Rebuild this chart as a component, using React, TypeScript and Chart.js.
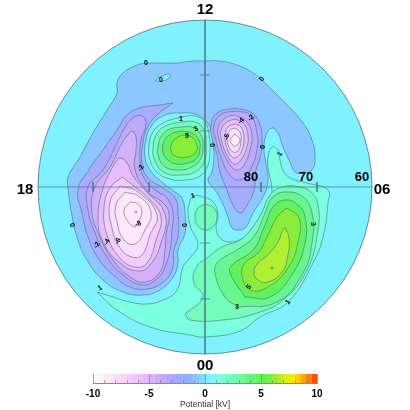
import React, { useEffect, useRef } from "react";
import { Chart, registerables } from "chart.js";

Chart.register(...registerables);

// Map grid: pole at POLE, magnetic-latitude rings every 10 degrees.
const POLE = [205, 187];
const RING_RADIUS = 167;

const zeroRegion = [146,63,160,63,177,63,193,61,205,61,220,61,237,65,250,71,262,80,272,90,287,105,303,123,312,140,315,157,312,170,303,173,295,172,290,162,283,147,278,133,272,128,266,135,264,147,265,158,267,170,268,180,265,193,253,213,245,228,237,230,232,228,228,217,222,202,215,190,208,180,212,172,214,155,213,145,211,130,205,120,195,114,181,113,165,115,152,125,146,140,145,157,150,170,163,183,175,192,182,198,185,213,185,233,178,250,178,263,173,277,160,290,143,295,123,292,103,280,87,260,77,237,71,210,68,187,68,177,80,157,93,133,107,110,117,93,117,83,123,73,137,65];
const zeroLens = [155,81,160,77,170,74,169,78,162,81];

const duskM1 = [173,103,157,115,147,128,143,143,142,163,148,178,163,188,175,198,178,213,178,237,174,250,172,270,162,283,147,289,130,287,113,275,98,258,88,237,82,213,78,190,90,168,103,150,117,130,127,115,140,108,160,105];
const duskM2 = [135,116,143,116,146,125,141,140,140,160,144,178,155,190,167,198,173,213,172,230,170,250,165,267,158,278,143,285,123,275,107,257,95,233,88,210,88,187,103,170,117,143,127,124];
const duskM3 = [127,136,132,131,136,137,136,150,135,170,148,192,162,202,169,213,166,235,165,250,160,272,145,282,130,277,113,260,100,237,92,212,95,187,110,167,122,143];
const duskM4 = [115,163,120,158,127,163,133,176,145,190,165,214,161,243,150,265,138,271,120,263,103,242,98,217,103,188,110,172];
const duskM5 = [122,177,135,187,150,200,161,217,156,240,147,263,135,267,120,258,107,235,104,208,110,188];
const duskM6 = [120,186,138,192,157,215,150,235,142,255,132,257,120,248,112,228,110,202];
const duskM7 = [125,192,140,197,151,213,145,230,135,244,124,240,117,222,116,205];
const duskM8 = [130,202,138,204,142,212,138,222,135,227,127,220,124,210];

const dawnM1 = [235,108,252,113,260,125,262,142,260,158,256,170,254,190,247,205,240,213,232,203,227,190,220,172,217,155,212,138,211,125,217,113];
const dawnM2 = [235,111,250,115,257,133,257,150,250,170,240,180,230,175,222,160,216,140,214,125,222,114];
const dawnM3 = [235,115,247,122,252,135,250,150,244,165,236,170,227,160,220,143,218,128,225,118];
const dawnM4 = [235,119,243,123,248,135,246,150,240,161,234,164,227,155,222,142,221,130,227,122];
const dawnM5 = [235,124,241,127,244,137,242,150,237,157,232,157,227,148,225,137,228,127];
const dawnM6 = [235,128,240,132,241,141,238,151,233,152,229,147,227,137,230,130];
const dawnM7 = [235,134,240,140,235,146,230,140];

const dayP1 = [181,117,195,116,205,122,209,135,210,150,208,165,200,176,185,180,170,179,157,172,150,160,149,145,153,132,163,123];
const dayP2 = [181,122,195,122,204,130,206,145,204,162,195,172,180,175,165,173,156,163,153,148,158,132,168,125];
const dayP3 = [181,127,192,127,201,135,203,147,200,160,190,168,178,170,165,167,159,158,158,147,162,135,170,129];
const dayP4 = [181,131,192,133,199,140,200,148,197,158,188,163,176,164,168,160,163,152,164,141,171,134];
const dayP5 = [182,135,192,137,197,145,196,152,188,157,178,157,172,153,171,146,175,139];

const nightP1 = [97,292,113,297,130,302,147,304,163,300,177,290,183,267,190,258,198,245,191,228,188,213,189,205,193,196,203,197,213,202,218,215,216,227,220,238,230,242,245,237,255,227,262,213,270,200,272,190,268,167,268,157,272,147,278,150,280,160,283,170,290,178,307,183,328,190,328,203,323,237,313,263,288,302,260,317,240,331,205,337,190,335,150,327,117,310];
const nightP2 = [185,314,203,297,194,283,196,268,207,258,222,247,240,240,252,228,262,212,270,195,282,187,300,187,312,193,318,205,318,230,307,270,283,300,257,313,223,320,190,320];
const blobP2 = [206,204,214,208,217,217,214,226,206,230,198,226,195,217,198,208];
const nightP3 = [238,307,225,297,215,273,218,262,240,248,255,235,265,213,273,197,287,192,303,197,312,213,312,243,303,273,277,302];
const nightP4 = [245,297,230,273,232,265,253,250,265,225,273,207,285,200,298,205,305,217,305,243,293,273,270,297];
const nightP5 = [287,208,299,218,298,242,288,268,268,287,250,290,242,275,245,263,258,253,268,235,277,217];
const nightP6 = [285,227,289,238,288,255,282,272,268,282,258,280,254,272,258,263,268,255,278,242,282,232];

const bandLevels = [-8,-7,-6,-5,-4,-3,-2,-1,0,1,2,3,4,5,6];
const bandColors = ["#ffe6fb","#fbdcfb","#f4ccfb","#e6bcfb","#d2b0fb","#bcaafd","#a8abff","#8cc8ff","#80f2ff","#7cffe0","#74fcbc","#68f690","#62f25e","#88ee3a","#b0f030"];

const contourList: [number, number[]][] = [
  [-1, zeroRegion], [0, zeroLens],
  [-2, duskM1], [-3, duskM2], [-4, duskM3], [-5, duskM4], [-6, duskM5], [-7, duskM6], [-8, duskM7], [-8, duskM8],
  [-2, dawnM1], [-3, dawnM2], [-4, dawnM3], [-5, dawnM4], [-6, dawnM5], [-7, dawnM6], [-8, dawnM7],
  [1, dayP1], [2, dayP2], [3, dayP3], [4, dayP4], [5, dayP5],
  [1, nightP1], [2, nightP2], [2, blobP2], [3, nightP3], [4, nightP4], [5, nightP5], [6, nightP6],
];

const labelTexts = ["0","0","0","1","3","5","-2","0","-2","-4","-6","0","1","0","-2","-4","-6","-8","0","1","1","3","5","3","1"];
const labelX = [146,161,262,181,196,187,141,213,251,241,227,263,280,72,97,107,118,138,185,193,100,313,249,237,288];
const labelY = [63,80,79,119,129,136,168,145,118,121,137,147,154,225,245,242,241,224,225,196,288,224,287,307,302];
const labelRot = [0,0,-60,0,-30,0,-60,-90,-45,-45,-80,-80,-60,80,-60,-60,-60,-20,-90,-20,-30,90,-50,0,-50];

const hourLabels = ["12","18","06","00"];
const hourX = [205,25,382,205];
const hourY = [10,190,190,366];
const latLabels = ["80","70","60"];
const latX = [251,306,362];
const latY = [177,177,177];

const ringTicks = [56, 112];
const minPoint = [136, 212];
const maxPoint = [272, 268];

const barEdges = [-10,-9.5,-9,-8.5,-8,-7.5,-7,-6.5,-6,-5.5,-5,-4.5,-4,-3.5,-3,-2.5,-2,-1.5,-1,-0.5,0,0.5,1,1.5,2,2.5,3,3.5,4,4.5,5,5.5,6,6.5,7,7.5,8,8.5,9,9.5,10];
const barColors = [
  "#fffafc","#fff2f8","#ffeaf8","#fee2f8","#fcdaf8","#fad2f8","#f6caf9","#f2c4fa","#ecbefa","#e4b8fa",
  "#d8b2fa","#ccaefa","#c0aafc","#b4a8fd","#a8a8fe","#9ca8ff","#92aaff","#8cb4ff","#88c4ff","#84d8ff",
  "#80f0ff","#80f8f0","#7cfce0","#78fcd0","#74fcc0","#70faae","#6cf89c","#66f688","#62f474","#5ef260",
  "#60f050","#78ec40","#98ec30","#bcec24","#e0ec18","#f8e808","#ffd000","#ffa800","#ff8000","#ff5008",
];
const axisValues = [-10,-5,0,5,10];

const LINE = "#4d6f78";
const AXIS = "#4f7480";

function toPoints(flat: number[]) {
  const out: { x: number; y: number }[] = [];
  for (let i = 0; i < flat.length; i += 2) out.push({ x: flat[i], y: flat[i + 1] });
  out.push({ x: flat[0], y: flat[1] });
  return out;
}

const textPlugin = {
  id: "mapText",
  afterDatasetsDraw(chart: any) {
    const { ctx, scales } = chart;
    const put = (t: string, x: number, y: number, rot: number, font: string) => {
      ctx.save();
      ctx.translate(scales.x.getPixelForValue(x), scales.y.getPixelForValue(y));
      ctx.rotate((rot * Math.PI) / 180);
      ctx.font = font;
      ctx.fillStyle = "#000";
      ctx.textAlign = "center";
      ctx.textBaseline = "middle";
      ctx.fillText(t, 0, 0);
      ctx.restore();
    };
    labelTexts.forEach((t, i) => put(t, labelX[i], labelY[i], labelRot[i], "bold 7px 'Liberation Sans'"));
    hourLabels.forEach((t, i) => put(t, hourX[i], hourY[i], 0, "bold 15px 'Liberation Sans'"));
    latLabels.forEach((t, i) => put(t, latX[i], latY[i], 0, "bold 13px 'Liberation Sans'"));
  },
};

const barTicksPlugin = {
  id: "barTicks",
  afterDatasetsDraw(chart: any) {
    const { ctx, scales, chartArea } = chart;
    ctx.save();
    ctx.strokeStyle = "#8a8a8a";
    ctx.lineWidth = 0.8;
    barEdges.filter((v) => Number.isInteger(v)).forEach((v) => {
      const x = Math.round(scales.x.getPixelForValue(v)) + 0.5;
      const major = v % 5 === 0;
      ctx.beginPath();
      ctx.moveTo(x, chartArea.bottom);
      ctx.lineTo(x, major ? chartArea.top : chartArea.bottom - 3);
      ctx.stroke();
    });
    ctx.restore();
  },
};

export default function App() {
  const mapRef = useRef<HTMLCanvasElement>(null);
  const barRef = useRef<HTMLCanvasElement>(null);

  useEffect(() => {
    const polePoint = [{ x: POLE[0], y: POLE[1] }];
    const segment = (a: number[], b: number[]) => ({
      data: [{ x: a[0], y: a[1] }, { x: b[0], y: b[1] }],
      showLine: true,
      borderColor: AXIS,
      borderWidth: 0.7,
      pointRadius: 0,
    });
    const [px, py] = POLE;
    const ds: any[] = [];
    ds.push({
      data: polePoint,
      pointRadius: RING_RADIUS,
      pointBackgroundColor: bandColors[bandLevels.indexOf(0)],
      pointBorderWidth: 0,
      showLine: false,
    });
    contourList.forEach(([level, flat]) => {
      ds.push({
        data: toPoints(flat),
        showLine: true,
        tension: 0.45,
        fill: "shape",
        backgroundColor: bandColors[bandLevels.indexOf(level)],
        borderColor: LINE,
        borderWidth: 0.6,
        pointRadius: 0,
      });
    });
    ds.push(segment([px, py - RING_RADIUS], [px, py + RING_RADIUS]));
    ds.push(segment([px - RING_RADIUS, py], [px + RING_RADIUS, py]));
    ringTicks.forEach((r) => {
      ds.push(segment([px - 5, py - r], [px + 5, py - r]));
      ds.push(segment([px - 5, py + r], [px + 5, py + r]));
      ds.push(segment([px - r, py - 5], [px - r, py + 5]));
      ds.push(segment([px + r, py - 5], [px + r, py + 5]));
    });
    ds.push({
      data: polePoint,
      pointRadius: RING_RADIUS,
      pointBackgroundColor: "rgba(0,0,0,0)",
      pointBorderColor: LINE,
      pointBorderWidth: 0.8,
      showLine: false,
    });
    ds.push({
      data: [{ x: minPoint[0], y: minPoint[1] }],
      pointStyle: "crossRot",
      pointRadius: 2,
      pointBorderColor: "#777",
      pointBorderWidth: 0.7,
    });
    ds.push({
      data: [{ x: maxPoint[0], y: maxPoint[1] }],
      pointStyle: "cross",
      pointRadius: 2,
      pointBorderColor: "#777",
      pointBorderWidth: 0.7,
    });
    ds.forEach((d, i) => (d.order = ds.length - i));

    const map = new Chart(mapRef.current!, {
      type: "scatter",
      data: { datasets: ds },
      plugins: [textPlugin],
      options: {
        animation: false,
        responsive: false,
        layout: { padding: 0, autoPadding: false },
        plugins: { legend: { display: false }, tooltip: { enabled: false } },
        scales: {
          x: { type: "linear", min: 0, max: 410, display: false },
          y: { type: "linear", min: 0, max: 410, reverse: true, display: false },
        },
      },
    });

    const bar = new Chart(barRef.current!, {
      type: "bar",
      data: {
        labels: [""],
        datasets: barColors.map((c, i) => ({
          data: [[barEdges[i], barEdges[i + 1]]] as any,
          backgroundColor: c,
          borderColor: c,
          borderWidth: 0.4,
          barPercentage: 1,
          categoryPercentage: 1,
          grouped: false,
        })),
      },
      plugins: [barTicksPlugin],
      options: {
        animation: false,
        responsive: false,
        indexAxis: "y",
        layout: { padding: { left: 93, right: 93, top: 6, bottom: 0 }, autoPadding: false },
        plugins: { legend: { display: false }, tooltip: { enabled: false } },
        scales: {
          x: {
            type: "linear",
            min: -10,
            max: 10,
            afterBuildTicks: (s: any) => {
              s.ticks = axisValues.map((value) => ({ value }));
            },
            afterFit: (s: any) => {
              s.height = 27;
            },
            grid: { display: false, drawTicks: false },
            border: { color: "#8a8a8a" },
            ticks: {
              autoSkip: false,
              maxRotation: 0,
              padding: 5,
              color: "#000",
              font: { family: "'Liberation Sans'", size: 10, weight: "bold" },
            },
            title: {
              display: true,
              text: "Potential [kV]",
              color: "#333",
              padding: { top: 1, bottom: 0 },
              font: { family: "'Liberation Sans'", size: 8.5 },
            },
          },
          y: { display: false },
        },
      },
    });

    return () => {
      map.destroy();
      bar.destroy();
    };
  }, []);

  return (
    <div style={{ position: "absolute", left: 0, top: 0, width: 410, height: 410, filter: "blur(0.35px)" }}>
      <canvas ref={mapRef} width={410} height={410} style={{ position: "absolute", left: 0, top: 0 }} />
      <canvas ref={barRef} width={410} height={42} style={{ position: "absolute", left: 0, top: 368 }} />
    </div>
  );
}
